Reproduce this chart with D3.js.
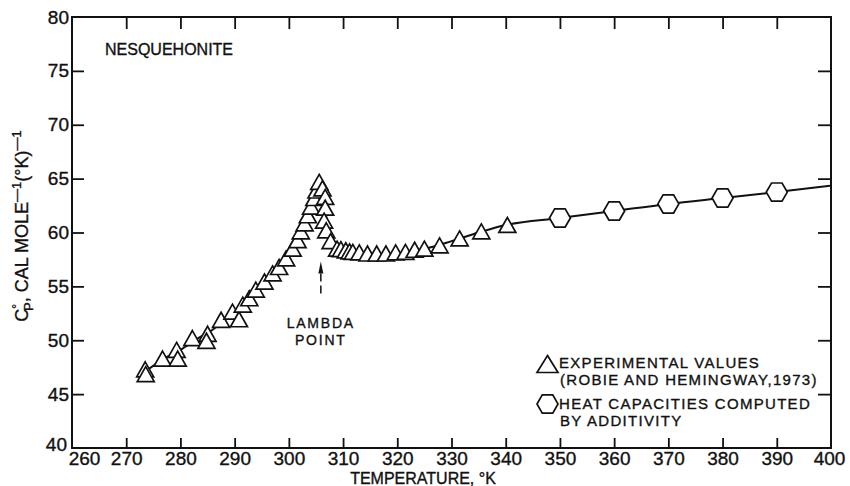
<!DOCTYPE html>
<html>
<head>
<meta charset="utf-8">
<script src="https://cdn.jsdelivr.net/npm/d3@7"></script>
<style>
  html, body { margin: 0; padding: 0; background: #fff; }
  svg { display: block; }
  text { font-family: "Liberation Sans", Arial, sans-serif; fill: #111; stroke: #111; stroke-width: 0.35px; }
</style>
</head>
<body>
<svg id="chart" width="850" height="486"></svg>
<script>
// Experimental heat capacities (Robie and Hemingway, 1973)
const expT  = [273.5, 273.6, 276.7, 279.3, 279.5, 282.2, 285.0, 284.8, 287.5, 289.6,
               290.8, 291.5, 292.7, 293.9, 295.5, 297.0, 298.2, 299.5, 300.7, 301.6,
               302.2, 302.9, 303.5, 304.1, 304.7, 305.1, 305.6, 306.2, 306.7, 306.7,
               306.5, 306.9, 307.7, 308.9, 309.6, 310.5, 311.2, 311.8, 313.0, 314.5,
               316.2, 317.9, 319.7, 321.5, 323.2, 325.0, 327.8, 331.5, 335.5, 340.3];
const expCp = [47.3, 46.85, 48.3, 49.1, 48.3, 50.2, 50.6, 49.95, 51.9, 52.65,
               51.95, 53.3, 53.9, 54.7, 55.45, 56.2, 56.8, 57.6, 58.5, 59.3,
               60.1, 60.85, 61.6, 62.4, 63.2, 63.9, 64.7, 64.1, 63.3, 62.3,
               61.1, 60.2, 59.2, 58.5, 58.45, 58.35, 58.25, 58.2, 58.15, 58.05,
               58.05, 58.05, 58.15, 58.2, 58.4, 58.5, 58.8, 59.45, 60.1, 60.7];

// Heat capacities computed by additivity
const addT  = [350, 360, 370, 380, 390];
const addCp = [61.35, 62.0, 62.65, 63.2, 63.75];

// Smooth curve drawn through the data
const curveT  = [273.5, 277, 280, 283, 286, 289, 292, 295, 298, 300, 302, 304, 305.6,
                 306.6, 307.2, 308, 309, 310, 312, 314, 316, 318, 320, 323, 326, 330,
                 335, 340, 350, 360, 370, 380, 390, 400];
const curveCp = [47.1, 48.3, 49.1, 50.1, 51.0, 52.2, 53.6, 55.2, 56.8, 58.0, 60.0, 62.3, 64.7,
                 62.5, 60.5, 59.2, 58.5, 58.1, 57.8, 57.7, 57.75, 57.85, 57.95, 58.25, 58.6, 59.2,
                 60.0, 60.7, 61.35, 62.0, 62.65, 63.2, 63.75, 64.35];

// Axis ticks
const xTickValues = [260, 270, 280, 290, 300, 310, 320, 330, 340, 350, 360, 370, 380, 390, 400];
const yTickValues = [40, 45, 50, 55, 60, 65, 70, 75, 80];

// Lambda transition
const lambdaT = 305.9;
const lambdaArrow = [57.3, 54.3]; // tip, tail (Cp units)

const ink = "#111";
const svg = d3.select("#chart");

const x = d3.scaleLinear().domain([260, 400]).range([72, 831]);
const y = d3.scaleLinear().domain([40, 80]).range([448, 17]);

// Frame
svg.append("rect")
  .attr("x", x(260)).attr("y", y(80))
  .attr("width", x(400) - x(260)).attr("height", y(40) - y(80))
  .attr("fill", "none").attr("stroke", ink).attr("stroke-width", 2);

function styleAxis(g) {
  g.select(".domain").remove();
  g.selectAll(".tick line").attr("stroke", ink).attr("stroke-width", 1.8);
  g.selectAll(".tick text")
    .attr("fill", ink)
    .style("font-family", '"Liberation Sans", Arial, sans-serif')
    .style("font-size", "19px");
}

const inner = v => v > 260 && v < 400;
const innerY = v => v > 40 && v < 80;

// Bottom axis
const gx = svg.append("g")
  .attr("transform", `translate(0,${y(40)})`)
  .call(d3.axisBottom(x).tickValues(xTickValues).tickFormat(d3.format("d"))
        .tickSizeInner(-10).tickSizeOuter(0).tickPadding(3))
  .call(styleAxis);
gx.selectAll(".tick line").filter(d => !inner(d)).remove();
gx.selectAll(".tick text").filter(d => d === 260).attr("dx", 12);
gx.selectAll(".tick text").filter(d => d === 400).attr("dx", -2);

// Top axis (ticks only)
svg.append("g")
  .attr("transform", `translate(0,${y(80)})`)
  .call(d3.axisTop(x).tickValues(xTickValues.filter(inner)).tickFormat("")
        .tickSizeInner(-12).tickSizeOuter(0))
  .call(styleAxis);

// Left axis
const gy = svg.append("g")
  .attr("transform", `translate(${x(260)},0)`)
  .call(d3.axisLeft(y).tickValues(yTickValues).tickFormat(d3.format("d"))
        .tickSizeInner(-12).tickSizeOuter(0).tickPadding(3))
  .call(styleAxis);
gy.selectAll(".tick line").filter(d => !innerY(d)).remove();
gy.selectAll(".tick text").filter(d => d === 40).attr("y", -4).attr("x", -5);

// Right axis (ticks only)
svg.append("g")
  .attr("transform", `translate(${x(400)},0)`)
  .call(d3.axisRight(y).tickValues(yTickValues.filter(innerY)).tickFormat("")
        .tickSizeInner(-13).tickSizeOuter(0))
  .call(styleAxis);

// Axis titles
svg.append("text")
  .attr("x", 423).attr("y", 484)
  .attr("text-anchor", "middle")
  .style("font-size", "16px")
  .text("TEMPERATURE, °K");

const yl = svg.append("text")
  .attr("transform", "translate(28,226) rotate(-90)")
  .attr("text-anchor", "middle")
  .style("font-size", "18px");
yl.append("tspan").text("C");
yl.append("tspan").attr("dy", -7).style("font-size", "12px").text("°");
yl.append("tspan").attr("dx", -7).attr("dy", 12).style("font-size", "13px").text("P");
yl.append("tspan").attr("dy", -5).text(", CAL MOLE");
yl.append("tspan").attr("dy", -7).style("font-size", "13px").text("—1");
yl.append("tspan").attr("dy", 7).text("(°K)");
yl.append("tspan").attr("dy", -7).style("font-size", "13px").text("—1");

// Title
svg.append("text")
  .attr("x", 105).attr("y", 55)
  .style("font-size", "16px")
  .text("NESQUEHONITE");

// Curve
const line = d3.line()
  .x(d => x(d[0])).y(d => y(d[1]))
  .curve(d3.curveMonotoneX);
svg.append("path")
  .datum(curveT.map((t, i) => [t, curveCp[i]]))
  .attr("d", line)
  .attr("fill", "none").attr("stroke", ink).attr("stroke-width", 2);

// Marker shapes
function trianglePath(w, h) {
  return `M0,${-h / 2}L${w / 2},${h / 2}L${-w / 2},${h / 2}Z`;
}
function hexagonPath(r) {
  const pts = d3.range(6).map(k => {
    const a = Math.PI / 3 * k;
    return [r * Math.cos(a), r * Math.sin(a)];
  });
  return "M" + pts.map(p => p.join(",")).join("L") + "Z";
}

// Experimental points
svg.append("g").selectAll("path")
  .data(expT.map((t, i) => [t, expCp[i]]))
  .join("path")
  .attr("transform", d => `translate(${x(d[0])},${y(d[1])})`)
  .attr("d", trianglePath(17, 15))
  .attr("fill", "#fff").attr("stroke", ink).attr("stroke-width", 1.7)
  .attr("stroke-linejoin", "miter");

// Additivity points
svg.append("g").selectAll("path")
  .data(addT.map((t, i) => [t, addCp[i]]))
  .join("path")
  .attr("transform", d => `translate(${x(d[0])},${y(d[1])})`)
  .attr("d", hexagonPath(10.5))
  .attr("fill", "#fff").attr("stroke", ink).attr("stroke-width", 1.7);

// Lambda point arrow
const ax = x(lambdaT);
const tipY = y(lambdaArrow[0]);
svg.append("path")
  .attr("d", `M${ax},${tipY}L${ax + 2.5},${tipY + 12}L${ax - 2.5},${tipY + 12}Z`)
  .attr("fill", ink);
svg.append("line")
  .attr("x1", ax).attr("x2", ax)
  .attr("y1", tipY + 12).attr("y2", y(lambdaArrow[1]))
  .attr("stroke", ink).attr("stroke-width", 1.5)
  .attr("stroke-dasharray", "8,4");
svg.append("text")
  .attr("x", ax).attr("y", 328)
  .attr("text-anchor", "middle")
  .style("font-size", "14px")
  .style("letter-spacing", "1.8px")
  .text("LAMBDA");
svg.append("text")
  .attr("x", ax).attr("y", 345)
  .attr("text-anchor", "middle")
  .style("font-size", "14px")
  .style("letter-spacing", "1.8px")
  .text("POINT");

// Legend
const lg = svg.append("g");
lg.append("path")
  .attr("transform", "translate(547.5,364)")
  .attr("d", trianglePath(21, 17))
  .attr("fill", "#fff").attr("stroke", ink).attr("stroke-width", 1.7);
lg.append("path")
  .attr("transform", "translate(547.5,404)")
  .attr("d", hexagonPath(10.5))
  .attr("fill", "#fff").attr("stroke", ink).attr("stroke-width", 1.7);
const legendLines = [
  ["EXPERIMENTAL VALUES", 559, 368],
  ["(ROBIE AND HEMINGWAY,1973)", 560, 385],
  ["HEAT CAPACITIES COMPUTED", 559, 409],
  ["BY ADDITIVITY", 560, 426]
];
lg.selectAll("text")
  .data(legendLines)
  .join("text")
  .attr("x", d => d[1]).attr("y", d => d[2])
  .style("font-size", "15px")
  .style("letter-spacing", "1.3px")
  .text(d => d[0]);
</script>
</body>
</html>
